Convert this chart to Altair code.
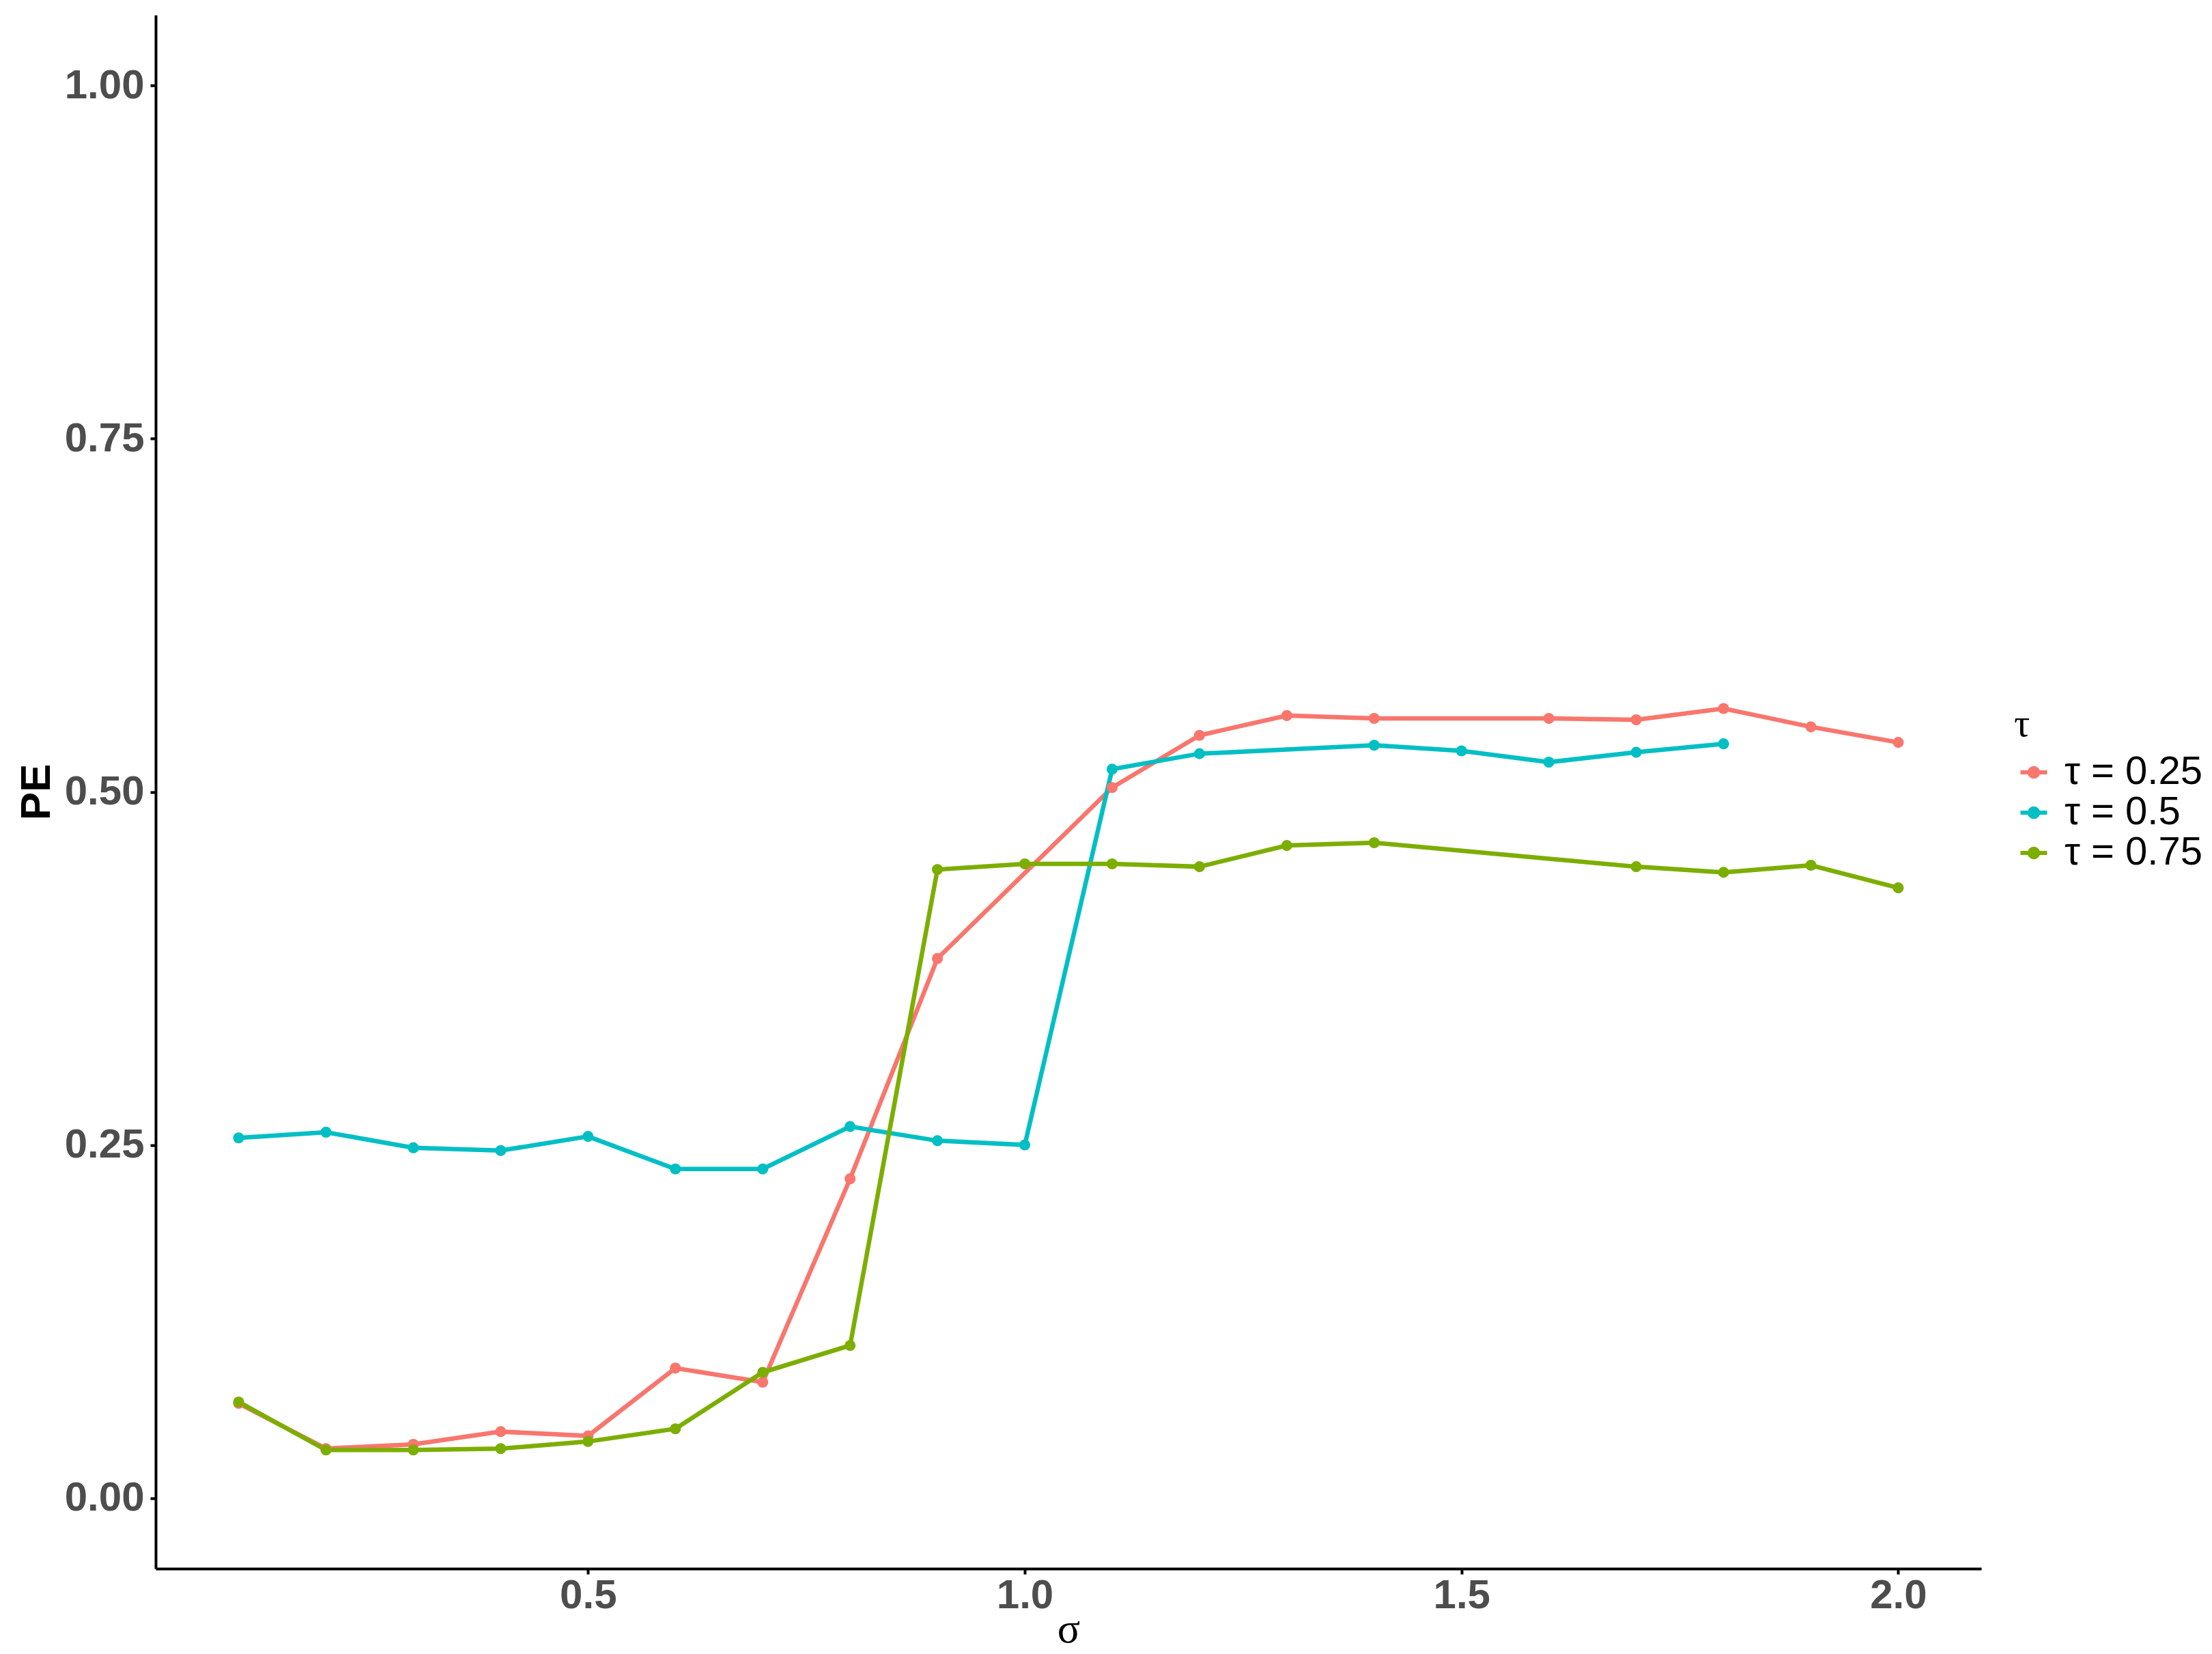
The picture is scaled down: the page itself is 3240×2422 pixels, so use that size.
import altair as alt
import pandas as pd

# x values (sigma)
sigma = [0.1, 0.2, 0.3, 0.4, 0.5, 0.6, 0.7, 0.8, 0.9, 1.0,
         1.1, 1.2, 1.3, 1.4, 1.5, 1.6, 1.7, 1.8, 1.9, 2.0]

# PE values per tau (None = no observation)
pe_tau_025 = [0.067, 0.035, 0.038, 0.047, 0.044, 0.092, 0.082, 0.226, 0.382, None,
              0.503, 0.540, 0.554, 0.552, None, 0.552, 0.551, 0.559, 0.546, 0.535]
pe_tau_05 = [0.255, 0.259, 0.248, 0.246, 0.256, 0.233, 0.233, 0.263, 0.253, 0.250,
             0.516, 0.527, None, 0.533, 0.529, 0.521, 0.528, 0.534, None, None]
pe_tau_075 = [0.068, 0.034, 0.034, 0.035, 0.040, 0.049, 0.089, 0.108, 0.445, 0.449,
              0.449, 0.447, 0.462, 0.464, None, None, 0.447, 0.443, 0.448, 0.432]

series_labels = ["τ = 0.25", "τ = 0.5", "τ = 0.75"]
series_colors = ["#F8766D", "#00BFC4", "#7CAE00"]

x_ticks = [0.5, 1.0, 1.5, 2.0]
y_ticks = [0.0, 0.25, 0.5, 0.75, 1.0]

rows = []
for label, vals in zip(series_labels, [pe_tau_025, pe_tau_05, pe_tau_075]):
    for s, v in zip(sigma, vals):
        if v is not None:
            rows.append({"sigma": s, "PE": v, "tau": label})
df = pd.DataFrame(rows)

W, H = 2674, 2275

legend_symbol = ("M-1,0L1,0"
                 "M-0.32,0A0.32,0.32,0,1,0,0.32,0A0.32,0.32,0,1,0,-0.32,0"
                 "M-0.15,0A0.15,0.15,0,1,0,0.15,0A0.15,0.15,0,1,0,-0.15,0")

color = alt.Color(
    "tau:N",
    scale=alt.Scale(domain=series_labels, range=series_colors),
    legend=alt.Legend(
        title="τ",
        orient="none",
        legendX=2722,
        legendY=1010,
        padding=0,
        titleFont="Liberation Serif",
        titleFontSize=58,
        titleFontWeight="normal",
        titleColor="black",
        titlePadding=12,
        labelFont="Liberation Sans",
        labelFontSize=58,
        labelColor="black",
        labelOffset=16,
        labelLimit=600,
        rowPadding=1,
        symbolType=legend_symbol,
        symbolSize=1521,
        symbolStrokeWidth=6,
    ),
)

base = alt.Chart(df).encode(
    x=alt.X(
        "sigma:Q",
        scale=alt.Scale(domain=[0.005, 2.095], nice=False, zero=False),
        axis=alt.Axis(
            values=x_ticks, format=".1f", title="σ",
            labelPadding=2,
            titleFont="Liberation Serif", titleFontWeight="normal",
            titleFontSize=62, titleColor="black",
            titleX=W / 2, titleY=107, titleBaseline="alphabetic", titleAlign="center",
        ),
    ),
    y=alt.Y(
        "PE:Q",
        scale=alt.Scale(domain=[-0.05, 1.05], nice=False, zero=False),
        axis=alt.Axis(
            values=y_ticks, format=".2f", title="PE",
            labelPadding=9,
            titleFont="Liberation Sans", titleFontWeight="bold",
            titleFontSize=62, titleColor="black",
            titleX=-156, titleY=H / 2, titleBaseline="alphabetic",
            titleAngle=270, titleAlign="center",
        ),
    ),
    color=color,
)

lines = base.mark_line(strokeWidth=6.5)
points = base.mark_point(filled=True, size=260, opacity=1)

chart = alt.layer(lines, points).properties(
    width=W,
    height=H,
    autosize=alt.AutoSizeParams(type="none"),
    padding={"left": 220, "top": 14, "right": 330, "bottom": 124},
).configure_view(
    stroke=None
).configure_axis(
    grid=False,
    domainColor="black",
    domainWidth=4,
    tickColor="black",
    tickWidth=4,
    tickSize=8,
    labelFont="Liberation Sans",
    labelFontWeight="bold",
    labelFontSize=60,
    labelColor="#4D4D4D",
)

chart.save("out.html", embed_options={"renderer": "svg", "actions": False})
